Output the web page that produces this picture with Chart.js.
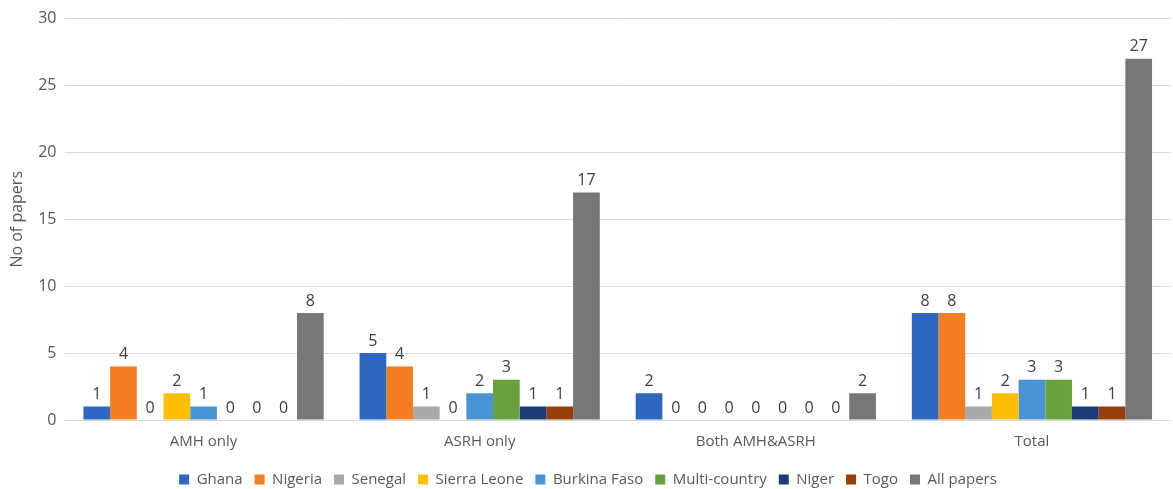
<!DOCTYPE html>
<html>
<head>
<meta charset="utf-8">
<script src="https://cdn.jsdelivr.net/npm/chart.js@4.4.1/dist/chart.umd.min.js"></script>
<style>
  html, body { margin: 0; padding: 0; background: #fff; }
  #wrap { width: 1173px; height: 489px; }
</style>
</head>
<body>
<div id="wrap"><canvas id="chart"></canvas></div>
<script>
const categories = ['AMH only', 'ASRH only', 'Both AMH&ASRH', 'Total'];

const ghana        = [1, 5, 2, 8];
const nigeria      = [4, 4, 0, 8];
const senegal      = [0, 1, 0, 1];
const sierraLeone  = [2, 0, 0, 2];
const burkinaFaso  = [1, 2, 0, 3];
const multiCountry = [0, 3, 0, 3];
const niger        = [0, 1, 0, 1];
const togo         = [0, 1, 0, 1];
const allPapers    = [8, 17, 2, 27];

const seriesNames  = ['Ghana', 'Nigeria', 'Senegal', 'Sierra Leone', 'Burkina Faso', 'Multi-country', 'Niger', 'Togo', 'All papers'];
const seriesValues = [ghana, nigeria, senegal, sierraLeone, burkinaFaso, multiCountry, niger, togo, allPapers];
const seriesColors = ['#2C67C0', '#F47D22', '#A9A9A9', '#FFBF00', '#4A94D6', '#67A23F', '#1C3C78', '#973F0B', '#777777'];

const FONT = '"Open Sans", "Noto Sans", sans-serif';

// draws the value above each bar, like Excel data labels
const valueLabels = {
    id: 'valueLabels',
    afterDatasetsDraw(chart) {
        const ctx = chart.ctx;
        ctx.save();
        ctx.font = '16px ' + FONT;
        ctx.fillStyle = '#404040';
        ctx.textAlign = 'center';
        ctx.textBaseline = 'bottom';
        chart.data.datasets.forEach((ds, i) => {
            chart.getDatasetMeta(i).data.forEach((bar, j) => {
                ctx.fillText(ds.data[j], bar.x, bar.y - 4);
            });
        });
        ctx.restore();
    }
};

const ctx = document.getElementById('chart').getContext('2d');

const chart = new Chart(ctx, {
    type: 'bar',
    data: {
        labels: categories,
        datasets: seriesNames.map((name, i) => ({
            label: name,
            data: seriesValues[i],
            backgroundColor: seriesColors[i],
            categoryPercentage: 0.87,
            barPercentage: 1.0
        }))
    },
    options: {
        responsive: true,
        maintainAspectRatio: false,
        animation: false,
        layout: { padding: { top: 6, right: 3, left: 6, bottom: -8 } },
        plugins: {
            tooltip: { enabled: false },
            legend: {
                position: 'bottom',
                labels: {
                    font: { family: FONT, size: 15 },
                    color: '#595959',
                    boxWidth: 10,
                    boxHeight: 10,
                    padding: 12
                }
            }
        },
        scales: {
            x: {
                grid: { display: false },
                border: { color: '#D9D9D9' },
                ticks: { font: { family: FONT, size: 15 }, color: '#595959', padding: 5 },
                afterFit(scale) { scale.height = 40; }
            },
            y: {
                min: 0,
                max: 30,
                ticks: { stepSize: 5, font: { family: FONT, size: 16 }, color: '#595959', padding: 9 },
                grid: { color: '#D9D9D9', drawTicks: false },
                border: { display: false },
                title: {
                    display: true,
                    text: 'No of papers',
                    font: { family: FONT, size: 16 },
                    color: '#595959',
                    padding: 2
                }
            }
        }
    },
    plugins: [valueLabels]
});
</script>
</body>
</html>
